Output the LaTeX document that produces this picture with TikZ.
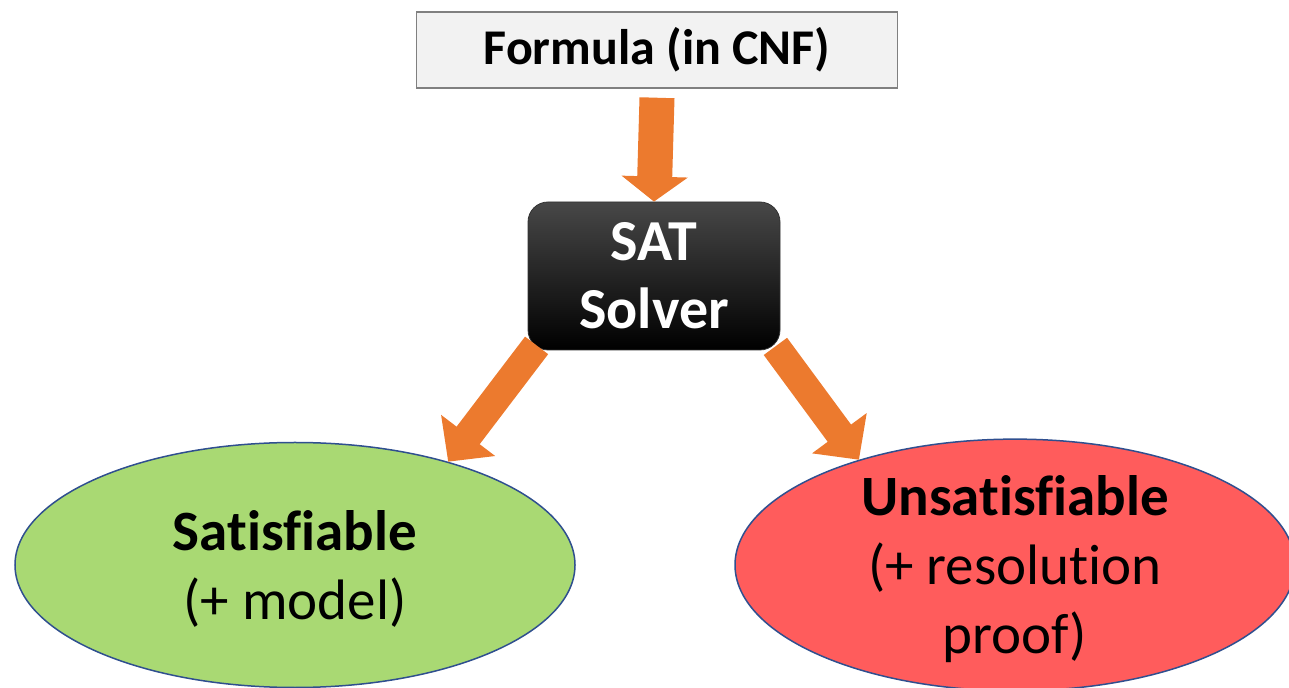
\documentclass[tikz,border=0pt]{standalone}
\usepackage{fontspec}
\setmainfont[Ligatures=NoCommon]{Carlito}
\usetikzlibrary{calc, shapes, arrows.meta}

\definecolor{boxgray}{HTML}{F2F2F2}
\definecolor{boxborder}{HTML}{808080}
\definecolor{arroworange}{HTML}{EC7A2E}
\definecolor{satgreen}{HTML}{A9D973}
\definecolor{unsatred}{HTML}{FF5C5C}
\definecolor{ellborder}{HTML}{2F4F8F}

\begin{document}
\begin{tikzpicture}[x=0.5pt,y=-0.5pt]
\tikzstyle{line} = [draw, color=arroworange, line width=14.5pt, -{Triangle[width=33pt,length=16.5pt]}]
\tikzstyle{down} = [line, line width=17.5pt, -{Triangle[width=32.5pt,length=12.5pt]}]
\tikzstyle{vertex}=[rectangle, draw=boxborder, fill=boxgray, line width=0.75pt, minimum width=240.5pt, minimum height=38pt, inner sep=0pt, font=\fontsize{25}{30}\selectfont\bfseries]
\tikzstyle{solverbox}=[rectangle, rounded corners=10pt, top color=black!72, bottom color=black, draw=black!80, minimum width=126pt, minimum height=74pt, inner sep=0pt, align=center, text=white, font=\fontsize{29}{34}\selectfont\bfseries]
\tikzstyle{result}=[ellipse, draw=ellborder, line width=0.75pt, minimum width=280pt, minimum height=122.5pt, inner sep=0pt, text depth=0pt, align=center, font=\fontsize{28.5}{34.5}\selectfont]
\clip (0,0) rectangle (1289,688);
\node[vertex] (formula) at (657,50) {Formula (in CNF)};
\node[solverbox] (solver) at (654,276) {SAT\\Solver};
\node[result, fill=satgreen] (sat) at (295,565) {\textbf{Satisfiable}\\(+ model)};
\node[result, fill=unsatred] (unsat) at (1015,565) {\textbf{Unsatisfiable}\\(+ resolution\\proof)};
\path [down] ($(formula.south)+(0,9)$) -- (solver.north);
\path [line] ($(solver.south west)+(9,-5)$) -- (sat.34);
\path [line] ($(solver.south east)+(-5,-4)$) -- (unsat.146);
\end{tikzpicture}
\end{document}
